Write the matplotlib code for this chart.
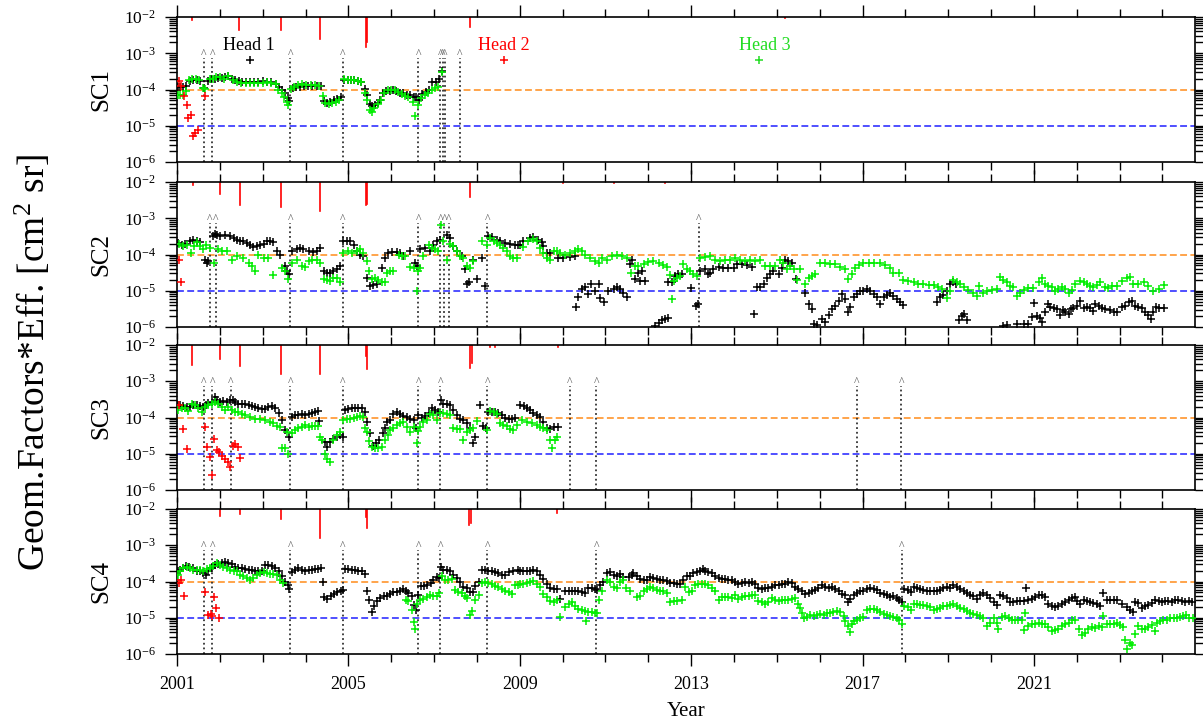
import numpy as np
import matplotlib
matplotlib.use("Agg")
import matplotlib.pyplot as plt
from matplotlib.ticker import LogLocator, NullFormatter, FuncFormatter, FixedLocator

plt.rcParams['font.family'] = ['Liberation Serif', 'DejaVu Serif']
plt.rcParams['mathtext.fontset'] = 'custom'
plt.rcParams['mathtext.rm'] = 'Liberation Serif'
plt.rcParams['mathtext.it'] = 'Liberation Serif:italic'
plt.rcParams['mathtext.bf'] = 'Liberation Serif:bold'

# data: (decimal year, log10 of geom. factor * eff.)
# ---- SC1 ----
sc1_black = [(2001.02,-3.92),(2001.08,-3.92),(2001.15,-3.92),(2001.22,-3.90),(2001.30,-3.76),(2001.38,-3.74),
    (2001.46,-3.74),(2001.54,-3.76),(2001.62,-3.96),(2001.72,-3.76),(2001.80,-3.72),(2001.88,-3.70),(2001.96,-3.68),
    (2002.04,-3.67),(2002.12,-3.66),(2002.20,-3.63),(2002.28,-3.70),(2002.36,-3.74),(2002.44,-3.76),(2002.52,-3.78),
    (2002.60,-3.78),(2002.70,-3.78),(2002.80,-3.78),(2002.90,-3.78),(2003.00,-3.77),(2003.10,-3.78),(2003.20,-3.80),
    (2003.30,-3.85),(2003.38,-3.92),(2003.46,-4.02),(2003.52,-4.10),(2003.58,-4.24),(2003.62,-4.32),(2003.70,-3.96),
    (2003.78,-3.94),(2003.86,-3.92),(2003.96,-3.90),(2004.06,-3.90),(2004.16,-3.90),(2004.26,-3.90),(2004.36,-3.90),
    (2004.42,-4.32),(2004.50,-4.36),(2004.58,-4.34),(2004.66,-4.30),(2004.74,-4.26),(2004.82,-4.22),(2004.90,-3.74),
    (2004.98,-3.74),(2005.06,-3.74),(2005.14,-3.75),(2005.22,-3.76),(2005.30,-3.78),(2005.38,-3.98),(2005.44,-4.15),
    (2005.50,-4.40),(2005.56,-4.46),(2005.62,-4.44),(2005.68,-4.38),(2005.74,-4.28),(2005.80,-4.10),(2005.88,-4.04),
    (2005.96,-4.04),(2006.04,-4.02),(2006.12,-4.05),(2006.20,-4.10),(2006.28,-4.10),(2006.36,-4.14),(2006.44,-4.14),
    (2006.52,-4.20),(2006.58,-4.22),(2006.64,-4.28),(2006.72,-4.12),(2006.80,-4.08),(2006.88,-4.02),(2006.96,-3.80),
    (2007.04,-3.78),(2007.12,-3.72),(2007.18,-3.50)]
sc1_green = [(2001.02,-4.15),(2001.08,-4.14),(2001.14,-4.15),(2001.20,-4.05),(2001.28,-3.74),(2001.36,-3.70),
    (2001.44,-3.72),(2001.52,-3.74),(2001.60,-3.96),(2001.66,-3.98),(2001.76,-3.72),(2001.84,-3.70),(2001.92,-3.66),
    (2002.00,-3.66),(2002.10,-3.70),(2002.20,-3.64),(2002.30,-3.74),(2002.40,-3.80),(2002.50,-3.82),(2002.60,-3.82),
    (2002.70,-3.82),(2002.80,-3.83),(2002.90,-3.82),(2003.00,-3.82),(2003.10,-3.80),(2003.20,-3.82),(2003.30,-3.85),
    (2003.36,-4.00),(2003.44,-4.10),(2003.50,-4.20),(2003.56,-4.35),(2003.60,-4.44),(2003.66,-3.98),(2003.74,-3.92),
    (2003.82,-3.88),(2003.92,-3.86),(2004.02,-3.87),(2004.12,-3.88),(2004.22,-3.88),(2004.32,-3.90),(2004.40,-4.18),
    (2004.46,-4.38),(2004.54,-4.40),(2004.62,-4.38),(2004.70,-4.34),(2004.78,-4.30),(2004.90,-3.72),(2004.98,-3.74),
    (2005.06,-3.74),(2005.14,-3.74),(2005.22,-3.76),(2005.30,-3.80),(2005.38,-4.10),(2005.44,-4.30),(2005.50,-4.56),
    (2005.54,-4.62),(2005.60,-4.50),(2005.68,-4.40),(2005.76,-4.30),(2005.84,-4.10),(2005.92,-4.02),(2006.00,-4.00),
    (2006.08,-4.00),(2006.16,-4.06),(2006.24,-4.12),(2006.32,-4.18),(2006.40,-4.22),(2006.50,-4.35),(2006.56,-4.72),
    (2006.62,-4.42),(2006.70,-4.24),(2006.78,-4.16),(2006.86,-4.10),(2006.94,-4.02),(2007.02,-3.96),(2007.10,-3.92),
    (2007.18,-3.53)]
sc1_red = [(2001.05,-3.76),(2001.10,-3.89),(2001.16,-4.19),(2001.23,-4.42),(2001.26,-4.79),(2001.32,-4.69),
    (2001.37,-5.27),(2001.42,-5.20),(2001.48,-5.13),(2001.66,-4.17)]
sc1_events = [2001.63, 2001.82, 2003.64, 2004.87, 2006.63, 2007.15, 2007.21, 2007.25, 2007.60]
sc1_spikes = [(2001.36,-2.09),(2002.45,-2.37),(2003.43,-2.37),(2004.34,-2.60),(2005.41,-2.82),(2005.43,-2.70),
    (2007.85,-2.28),(2015.2,-2.03)]

# ---- SC2 ----
sc2_black = [(2001.03,-3.68),(2001.11,-3.73),(2001.19,-3.71),(2001.30,-3.62),(2001.38,-3.59),(2001.46,-3.64),
    (2001.54,-3.65),(2001.65,-4.14),(2001.69,-4.23),(2001.73,-4.18),(2001.85,-3.50),(2001.89,-3.44),(2001.94,-3.45),
    (2002.00,-3.50),(2002.12,-3.47),(2002.24,-3.50),(2002.32,-3.55),(2002.39,-3.59),(2002.47,-3.62),(2002.55,-3.64),
    (2002.63,-3.68),(2002.70,-3.73),(2002.78,-3.80),(2002.86,-3.77),(2002.94,-3.73),(2003.02,-3.70),(2003.09,-3.64),
    (2003.17,-3.64),(2003.25,-3.65),(2003.33,-3.91),(2003.40,-4.00),(2003.51,-4.32),(2003.56,-4.45),(2003.61,-4.55),
    (2003.68,-3.89),(2003.79,-3.86),(2003.87,-3.82),(2003.95,-3.84),(2004.07,-3.91),(2004.18,-3.93),(2004.26,-3.89),
    (2004.34,-3.82),(2004.42,-4.45),(2004.49,-4.50),(2004.57,-4.50),(2004.65,-4.45),(2004.73,-4.41),(2004.81,-4.32),
    (2004.88,-3.64),(2004.96,-3.62),(2005.04,-3.64),(2005.12,-3.75),(2005.19,-3.91),(2005.27,-4.00),(2005.35,-4.05),
    (2005.43,-4.64),(2005.51,-4.86),(2005.58,-4.84),(2005.66,-4.82),(2005.78,-4.36),(2005.86,-4.09),(2005.93,-3.95),
    (2006.01,-3.93),(2006.13,-3.93),(2006.21,-3.95),(2006.28,-4.05),(2006.44,-3.91),(2006.56,-4.23),(2006.60,-4.32),
    (2006.67,-3.86),(2006.79,-3.82),(2006.91,-3.91),(2006.98,-3.73),(2007.06,-3.64),(2007.14,-3.59),(2007.30,-3.45),
    (2007.37,-3.55),(2007.45,-3.77),(2007.53,-3.91),(2007.65,-4.05),(2007.72,-4.41),(2007.76,-4.82),(2007.82,-4.77),
    (2007.92,-4.14),(2008.00,-4.68),(2008.11,-4.09),(2008.19,-4.86),(2008.27,-3.50),(2008.35,-3.53),(2008.46,-3.59),
    (2008.54,-3.64),(2008.66,-3.68),(2008.77,-3.71),(2008.89,-3.73),(2008.97,-3.73),
    (2009.01,-3.73),(2009.08,-3.64),(2009.24,-3.55),(2009.32,-3.53),(2009.43,-3.59),(2009.51,-3.65),(2009.55,-3.77),
    (2009.63,-3.95),(2009.71,-3.95),(2009.90,-4.09),(2010.02,-4.09),(2010.17,-4.07),(2010.29,-4.05),(2010.31,-5.45),
    (2010.37,-5.18),(2010.45,-4.95),(2010.52,-4.89),(2010.60,-5.09),(2010.66,-4.82),(2010.76,-5.00),(2010.84,-4.80),
    (2010.87,-5.20),(2010.97,-5.32),(2011.07,-5.00),(2011.19,-4.95),(2011.26,-4.91),(2011.34,-4.95),(2011.42,-5.05),
    (2011.50,-5.16),(2011.57,-4.27),(2011.61,-4.14),(2011.69,-4.68),(2011.77,-4.50),(2011.81,-4.73),(2011.85,-4.45),
    (2011.93,-4.73),(2012.16,-5.98),(2012.24,-5.89),(2012.31,-5.82),(2012.39,-5.77),(2012.47,-5.75),(2012.47,-4.77),
    (2012.55,-4.77),(2012.63,-4.59),(2012.70,-4.55),(2012.78,-4.55),(2012.99,-4.93),(2013.11,-5.41),(2013.15,-5.36),
    (2013.21,-4.45),(2013.33,-4.41),(2013.40,-4.55),(2013.44,-4.50),(2013.52,-4.41),(2013.64,-4.35),(2013.75,-4.38),
    (2013.87,-4.38),(2013.99,-4.36),(2014.07,-4.27),(2014.18,-4.27),(2014.30,-4.29),(2014.42,-4.35),(2014.47,-5.64),
    (2014.53,-4.89),(2014.61,-4.89),(2014.69,-4.82),(2014.77,-4.64),(2014.84,-4.55),(2014.92,-4.45),(2015.04,-4.55),
    (2015.12,-4.36),(2015.19,-4.14),(2015.27,-4.18),(2015.35,-4.23),(2015.45,-4.68),(2015.66,-5.05),(2015.74,-5.36),
    (2015.82,-5.50),(2015.86,-5.91),(2015.93,-5.95),(2016.05,-5.77),(2016.13,-5.85),(2016.21,-5.68),(2016.28,-5.50),
    (2016.36,-5.41),(2016.44,-5.27),(2016.52,-5.09),(2016.59,-5.23),(2016.67,-5.59),(2016.71,-5.44),(2016.79,-5.18),
    (2016.87,-5.09),(2016.94,-5.00),(2017.02,-5.00),(2017.10,-4.95),(2017.18,-5.00),(2017.26,-5.09),(2017.33,-5.18),
    (2017.41,-5.36),(2017.49,-5.16),(2017.57,-5.11),(2017.64,-5.07),(2017.72,-5.14),(2017.80,-5.23),(2017.88,-5.32),
    (2017.94,-5.39),(2018.73,-5.32),(2018.81,-5.18),(2018.89,-5.11),(2018.97,-5.00),(2019.04,-4.80),(2019.12,-4.77),
    (2019.18,-4.80),(2019.26,-5.80),(2019.32,-5.71),(2019.37,-5.64),(2019.45,-5.80),(2020.29,-5.98),(2020.37,-5.95),
    (2020.60,-5.91),(2020.76,-5.91),(2020.87,-5.93),(2020.95,-5.73),(2021.01,-5.35),(2021.07,-5.71),(2021.15,-5.75),
    (2021.20,-5.86),(2021.26,-5.59),(2021.32,-5.36),(2021.38,-5.44),(2021.46,-5.47),(2021.53,-5.50),(2021.61,-5.68),
    (2021.67,-5.53),(2021.73,-5.59),(2021.81,-5.64),(2021.86,-5.50),(2021.92,-5.47),(2022.00,-5.41),(2022.08,-5.29),
    (2022.17,-5.47),(2022.23,-5.44),(2022.31,-5.47),(2022.37,-5.56),(2022.43,-5.36),(2022.51,-5.41),(2022.59,-5.47),
    (2022.66,-5.50),(2022.78,-5.52),(2022.86,-5.59),(2022.94,-5.59),(2023.05,-5.44),(2023.13,-5.41),(2023.21,-5.32),
    (2023.29,-5.27),(2023.36,-5.41),(2023.44,-5.45),(2023.52,-5.47),(2023.60,-5.59),(2023.67,-5.68),(2023.73,-5.77),
    (2023.79,-5.59),(2023.85,-5.45),(2023.93,-5.47),(2024.04,-5.48)]
sc2_green = [(2001.05,-3.70),(2001.13,-3.77),(2001.24,-3.73),(2001.32,-3.95),(2001.40,-3.77),(2001.46,-3.66),
    (2001.54,-3.77),(2001.61,-3.86),(2001.68,-3.75),(2001.77,-3.82),(2001.87,-4.23),(2001.95,-3.86),(2002.04,-3.91),
    (2002.16,-3.89),(2002.28,-4.14),(2002.39,-4.05),(2002.55,-4.09),(2002.67,-4.23),(2002.74,-4.32),(2002.82,-4.45),
    (2002.90,-4.00),(2003.02,-4.09),(2003.13,-4.09),(2003.23,-4.56),(2003.44,-4.36),(2003.52,-4.45),(2003.60,-4.68),
    (2003.68,-4.23),(2003.79,-4.14),(2003.91,-4.32),(2003.99,-4.35),(2004.07,-4.18),(2004.14,-4.14),(2004.26,-4.14),
    (2004.34,-4.23),(2004.42,-4.68),(2004.49,-4.71),(2004.57,-4.73),(2004.65,-4.64),(2004.73,-4.64),(2004.81,-4.77),
    (2004.88,-3.95),(2005.00,-3.91),(2005.08,-3.95),(2005.19,-3.91),(2005.27,-3.86),(2005.35,-3.95),(2005.43,-4.18),
    (2005.47,-4.45),(2005.54,-4.68),(2005.62,-4.65),(2005.70,-4.71),(2005.78,-4.75),(2005.86,-4.77),(2005.89,-4.50),
    (2005.97,-4.45),(2006.05,-4.45),(2006.17,-4.00),(2006.25,-4.05),(2006.32,-4.05),(2006.44,-4.35),(2006.52,-4.36),
    (2006.60,-5.00),(2006.63,-4.45),(2006.67,-4.36),(2006.75,-4.05),(2006.87,-3.73),(2006.95,-3.82),(2007.02,-3.86),
    (2007.10,-3.91),(2007.16,-3.18),(2007.22,-3.64),(2007.30,-4.14),(2007.37,-3.71),(2007.45,-3.77),(2007.53,-3.91),
    (2007.61,-4.05),(2007.68,-4.09),(2007.76,-4.32),(2007.84,-4.36),(2007.92,-4.18),(2008.11,-3.64),(2008.23,-3.73),
    (2008.31,-3.55),(2008.39,-3.62),(2008.46,-3.68),(2008.54,-3.75),(2008.62,-3.82),(2008.70,-3.91),(2008.77,-4.05),
    (2008.85,-4.09),(2008.93,-4.09),
    (2009.08,-3.80),(2009.20,-3.64),(2009.32,-3.56),(2009.40,-3.62),(2009.47,-3.82),(2009.55,-3.95),(2009.63,-4.09),
    (2009.71,-4.14),(2009.79,-3.91),(2009.86,-3.89),(2009.94,-3.95),(2010.06,-4.00),(2010.17,-3.95),(2010.29,-3.89),
    (2010.37,-3.86),(2010.45,-3.91),(2010.52,-4.00),(2010.64,-4.09),(2010.76,-4.18),(2010.84,-4.23),(2010.91,-4.09),
    (2011.03,-4.14),(2011.15,-4.05),(2011.26,-4.02),(2011.38,-4.05),(2011.50,-4.09),(2011.59,-4.50),(2011.69,-4.32),
    (2011.77,-4.32),(2011.89,-4.25),(2012.00,-4.20),(2012.12,-4.18),(2012.24,-4.23),(2012.35,-4.29),(2012.43,-4.35),
    (2012.51,-4.56),(2012.55,-5.23),(2012.59,-4.73),(2012.66,-4.64),(2012.74,-4.59),(2012.82,-4.25),(2012.90,-4.41),
    (2012.98,-4.45),(2013.05,-4.53),(2013.13,-4.59),(2013.21,-4.09),(2013.33,-4.07),(2013.44,-4.05),(2013.56,-4.14),
    (2013.68,-4.18),(2013.79,-4.14),(2013.91,-4.14),(2014.03,-4.09),(2014.14,-4.14),(2014.26,-4.18),(2014.38,-4.14),
    (2014.49,-4.18),(2014.61,-4.14),(2014.73,-4.32),(2014.84,-4.32),(2014.96,-4.32),(2015.08,-4.14),(2015.15,-4.23),
    (2015.23,-4.41),(2015.31,-4.32),(2015.39,-4.41),(2015.47,-4.71),(2015.54,-4.41),(2015.66,-4.82),(2015.74,-4.64),
    (2015.82,-4.59),(2015.89,-4.55),(2016.01,-4.23),(2016.13,-4.23),(2016.24,-4.25),(2016.36,-4.27),(2016.48,-4.35),
    (2016.59,-4.41),(2016.67,-4.68),(2016.75,-4.53),(2016.83,-4.36),(2016.91,-4.29),(2017.02,-4.23),(2017.14,-4.23),
    (2017.26,-4.23),(2017.41,-4.23),(2017.53,-4.29),(2017.64,-4.36),(2017.72,-4.50),(2017.84,-4.50),(2017.95,-4.71),
    (2018.07,-4.73),(2018.19,-4.77),(2018.30,-4.80),(2018.42,-4.82),(2018.54,-4.84),(2018.66,-4.84),(2018.77,-4.91),
    (2018.85,-4.95),(2018.97,-5.20),(2019.04,-5.00),(2019.12,-4.71),(2019.20,-4.77),(2019.28,-4.82),(2019.36,-4.91),
    (2019.47,-4.98),(2019.59,-5.05),(2019.67,-5.14),(2019.73,-4.86),(2019.82,-5.05),(2019.90,-5.00),(2020.02,-4.98),
    (2020.13,-4.95),(2020.21,-4.62),(2020.29,-4.71),(2020.37,-4.77),(2020.45,-4.86),(2020.52,-4.91),(2020.60,-5.14),
    (2020.68,-5.05),(2020.76,-4.98),(2020.87,-4.93),(2020.99,-4.93),(2021.11,-4.77),(2021.18,-4.65),(2021.26,-4.82),
    (2021.34,-4.86),(2021.42,-4.89),(2021.50,-5.00),(2021.57,-4.95),(2021.65,-4.91),(2021.73,-4.95),(2021.81,-5.05),
    (2021.88,-4.98),(2021.96,-4.82),(2022.08,-4.73),(2022.16,-4.77),(2022.23,-4.82),(2022.31,-4.86),(2022.39,-4.91),
    (2022.47,-4.84),(2022.55,-4.77),(2022.66,-4.91),(2022.74,-4.93),(2022.82,-4.86),(2022.94,-4.86),(2023.05,-4.73),
    (2023.17,-4.65),(2023.25,-4.62),(2023.32,-4.82),(2023.44,-4.80),(2023.56,-4.77),(2023.67,-4.86),(2023.79,-5.00),
    (2023.91,-4.95),(2024.04,-4.84)]
sc2_red = [(2001.05,-4.14),(2001.09,-4.77)]
sc2_events = [2001.77, 2001.91, 2003.64, 2004.87, 2006.63, 2007.15, 2007.24, 2007.35, 2008.24, 2013.18]
sc2_spikes = [(2001.37,-2.08),(2002.00,-2.32),(2002.46,-2.64),(2003.43,-2.69),(2004.34,-2.80),(2005.40,-2.64),
    (2005.43,-2.60),(2007.84,-2.41),(2010.0,-2.04),(2011.2,-2.03),(2012.4,-2.03)]

# ---- SC3 ----
sc3_black = [(2001.02,-3.66),(2001.07,-3.66),(2001.15,-3.69),(2001.23,-3.71),(2001.30,-3.71),(2001.38,-3.66),
    (2001.46,-3.66),(2001.54,-3.69),(2001.61,-3.71),(2001.68,-3.66),(2001.73,-3.60),(2001.81,-3.57),(2001.89,-3.44),
    (2001.94,-3.53),(2002.00,-3.57),(2002.08,-3.55),(2002.16,-3.57),(2002.24,-3.53),(2002.30,-3.51),(2002.35,-3.57),
    (2002.43,-3.62),(2002.51,-3.64),(2002.59,-3.64),(2002.67,-3.66),(2002.74,-3.69),(2002.82,-3.71),(2002.90,-3.75),
    (2002.98,-3.77),(2003.05,-3.77),(2003.13,-3.71),(2003.21,-3.69),(2003.29,-3.75),(2003.37,-3.87),(2003.44,-4.07),
    (2003.52,-4.35),(2003.62,-4.53),(2003.68,-3.98),(2003.75,-3.94),(2003.83,-3.94),(2003.91,-3.91),(2003.99,-3.94),
    (2004.07,-3.89),(2004.14,-3.87),(2004.22,-3.85),(2004.30,-3.82),(2004.32,-4.09),(2004.46,-4.67),(2004.49,-4.80),
    (2004.57,-4.67),(2004.65,-4.58),(2004.73,-4.53),(2004.81,-4.48),(2004.87,-4.53),(2004.92,-3.78),(2005.00,-3.77),
    (2005.08,-3.75),(2005.16,-3.75),(2005.23,-3.75),(2005.31,-3.75),(2005.39,-3.84),(2005.44,-4.12),(2005.51,-4.44),
    (2005.58,-4.79),(2005.65,-4.71),(2005.72,-4.62),(2005.80,-4.42),(2005.86,-4.30),(2005.91,-4.12),(2005.97,-4.07),
    (2006.05,-3.89),(2006.13,-3.84),(2006.21,-3.89),(2006.28,-3.96),(2006.36,-3.98),(2006.44,-4.03),(2006.52,-4.07),
    (2006.58,-4.30),(2006.63,-3.94),(2006.71,-4.00),(2006.79,-3.96),(2006.87,-3.87),(2006.95,-3.75),(2007.02,-3.80),
    (2007.10,-3.84),(2007.16,-3.53),(2007.22,-3.62),(2007.30,-3.64),(2007.37,-3.66),(2007.45,-3.80),(2007.53,-3.94),
    (2007.61,-4.03),(2007.68,-4.07),(2007.76,-4.16),(2007.84,-4.30),(2007.90,-4.71),(2007.96,-4.53),(2008.07,-3.66),
    (2008.14,-4.24),(2008.21,-4.30),(2008.27,-3.84),(2008.35,-3.84),(2008.42,-3.84),(2008.50,-3.87),(2008.58,-3.94),
    (2008.66,-4.00),(2008.74,-4.03),(2008.81,-4.03),(2008.89,-4.00),(2009.01,-3.66),(2009.09,-3.69),(2009.16,-3.75),
    (2009.24,-3.80),(2009.32,-3.87),(2009.40,-3.94),(2009.47,-3.98),(2009.55,-4.12),(2009.63,-4.30),(2009.71,-4.33),
    (2009.79,-4.27),(2009.90,-4.27)]
sc3_green = [(2001.03,-3.80),(2001.11,-3.75),(2001.19,-3.75),(2001.26,-3.82),(2001.34,-3.62),(2001.42,-3.66),
    (2001.50,-3.75),(2001.58,-3.84),(2001.65,-3.71),(2001.73,-3.66),(2001.81,-3.64),(2001.89,-3.57),(2001.96,-3.62),
    (2002.04,-3.71),(2002.12,-3.80),(2002.20,-3.71),(2002.28,-3.80),(2002.35,-3.84),(2002.43,-3.84),(2002.51,-3.89),
    (2002.59,-3.94),(2002.70,-3.98),(2002.82,-4.03),(2002.94,-4.03),(2003.05,-4.07),(2003.17,-4.12),(2003.25,-4.16),
    (2003.33,-4.24),(2003.40,-4.26),(2003.44,-4.85),(2003.52,-4.85),(2003.56,-4.39),(2003.60,-5.00),(2003.68,-4.44),
    (2003.75,-4.35),(2003.83,-4.30),(2003.91,-4.26),(2003.99,-4.21),(2004.07,-4.26),(2004.14,-4.24),(2004.22,-4.24),
    (2004.30,-4.24),(2004.34,-4.53),(2004.38,-4.62),(2004.46,-5.00),(2004.49,-5.15),(2004.57,-5.24),(2004.65,-4.62),
    (2004.73,-4.48),(2004.81,-4.39),(2004.88,-4.07),(2004.96,-4.05),(2005.04,-4.03),(2005.12,-4.00),(2005.19,-3.98),
    (2005.27,-3.96),(2005.35,-3.98),(2005.39,-4.30),(2005.43,-4.39),(2005.49,-4.64),(2005.54,-4.80),(2005.62,-4.85),
    (2005.70,-4.85),(2005.78,-4.80),(2005.86,-4.62),(2005.93,-4.48),(2005.97,-4.35),(2006.05,-4.30),(2006.13,-4.21),
    (2006.21,-4.16),(2006.28,-4.12),(2006.36,-4.26),(2006.44,-4.39),(2006.52,-4.26),(2006.60,-4.69),(2006.63,-4.37),
    (2006.67,-4.26),(2006.75,-4.12),(2006.83,-4.07),(2006.91,-3.91),(2006.98,-3.94),(2007.06,-4.07),(2007.14,-3.87),
    (2007.22,-3.87),(2007.30,-3.91),(2007.37,-3.94),(2007.45,-4.30),(2007.53,-4.33),(2007.61,-4.33),(2007.68,-4.62),
    (2007.76,-4.39),(2007.84,-4.35),(2007.92,-4.30),(2008.00,-4.09),(2008.23,-4.35),(2008.31,-3.82),(2008.39,-3.84),
    (2008.46,-3.89),(2008.54,-4.16),(2008.62,-4.21),(2008.70,-4.24),(2008.77,-4.33),(2008.85,-4.35),(2008.93,-4.21),
    (2009.05,-4.07),(2009.16,-4.12),(2009.28,-4.16),(2009.40,-4.21),(2009.47,-4.27),(2009.55,-4.30),(2009.63,-4.35),
    (2009.71,-4.62),(2009.75,-4.85),(2009.82,-4.62),(2009.88,-4.55)]
sc3_red = [(2001.05,-3.66),(2001.15,-4.33),(2001.23,-4.88),(2001.65,-4.27),(2001.71,-4.80),(2001.77,-5.10),
    (2001.82,-5.58),(2001.87,-4.58),(2001.93,-4.89),(2001.97,-4.94),(2002.04,-5.06),(2002.12,-5.15),(2002.18,-5.24),
    (2002.24,-5.37),(2002.30,-4.79),(2002.36,-4.73),(2002.42,-4.80),(2002.47,-5.11)]
sc3_events = [2001.63, 2001.82, 2002.25, 2003.64, 2004.87, 2006.63, 2007.15, 2008.24, 2010.17, 2010.79,
    2016.87, 2017.90]
sc3_spikes = [(2001.36,-2.55),(2002.00,-2.39),(2002.46,-2.58),(2003.43,-2.80),(2004.34,-2.80),(2005.40,-2.30),
    (2005.44,-2.66),(2007.84,-2.63),(2007.88,-2.50),(2008.31,-2.06),(2008.42,-2.06),(2009.90,-2.05)]

# ---- SC4 ----
sc4_black = [(2001.02,-3.70),(2001.07,-3.68),(2001.13,-3.63),(2001.21,-3.57),(2001.29,-3.59),(2001.38,-3.63),
    (2001.46,-3.70),(2001.54,-3.72),(2001.61,-3.77),(2001.68,-3.82),(2001.73,-3.70),(2001.81,-3.63),(2001.89,-3.54),
    (2001.96,-3.51),(2002.04,-3.48),(2002.12,-3.45),(2002.20,-3.48),(2002.28,-3.51),(2002.35,-3.59),(2002.43,-3.63),
    (2002.51,-3.63),(2002.59,-3.66),(2002.67,-3.68),(2002.74,-3.68),(2002.82,-3.70),(2002.90,-3.70),(2002.98,-3.70),
    (2003.05,-3.54),(2003.13,-3.54),(2003.21,-3.57),(2003.29,-3.63),(2003.37,-3.72),(2003.44,-3.86),(2003.52,-4.00),
    (2003.58,-4.09),(2003.62,-4.21),(2003.68,-3.75),(2003.75,-3.68),(2003.83,-3.63),(2003.91,-3.68),(2003.99,-3.70),
    (2004.07,-3.68),(2004.14,-3.68),(2004.22,-3.66),(2004.30,-3.65),(2004.35,-3.63),(2004.40,-4.00),(2004.43,-4.43),
    (2004.51,-4.49),(2004.59,-4.41),(2004.67,-4.34),(2004.74,-4.30),(2004.82,-4.25),(2004.87,-4.23),(2004.92,-3.65),
    (2005.00,-3.65),(2005.08,-3.68),(2005.16,-3.68),(2005.23,-3.70),(2005.31,-3.70),(2005.39,-3.79),(2005.43,-4.25),
    (2005.49,-4.50),(2005.54,-4.83),(2005.60,-4.67),(2005.66,-4.55),(2005.74,-4.46),(2005.82,-4.41),(2005.89,-4.39),
    (2005.97,-4.34),(2006.05,-4.30),(2006.13,-4.28),(2006.21,-4.25),(2006.28,-4.21),(2006.35,-4.25),(2006.40,-4.32),
    (2006.48,-4.41),(2006.53,-4.64),(2006.58,-4.78),(2006.63,-4.37),(2006.69,-4.12),(2006.77,-4.12),(2006.84,-4.09),
    (2006.92,-4.03),(2006.98,-3.95),(2007.06,-3.88),(2007.12,-3.91),(2007.16,-3.59),(2007.22,-3.68),(2007.30,-3.68),
    (2007.37,-3.72),(2007.45,-3.82),(2007.53,-3.91),(2007.61,-4.00),(2007.68,-4.14),(2007.76,-4.18),(2007.84,-4.28),
    (2007.90,-4.28),(2007.96,-4.12),(2008.04,-4.00),(2008.11,-3.68),(2008.19,-3.68),(2008.27,-3.70),(2008.35,-3.72),
    (2008.42,-3.75),(2008.50,-3.77),(2008.58,-3.82),(2008.66,-3.82),(2008.74,-3.75),(2008.85,-3.72),(2008.97,-3.68),
    (2009.01,-3.72),(2009.08,-3.72),(2009.16,-3.72),(2009.24,-3.70),(2009.32,-3.68),(2009.40,-3.72),(2009.47,-3.81),
    (2009.55,-3.93),(2009.63,-4.06),(2009.71,-4.17),(2009.79,-4.20),(2009.86,-4.20),(2009.94,-4.47),(2010.06,-4.26),
    (2010.14,-4.25),(2010.21,-4.25),(2010.29,-4.26),(2010.37,-4.26),(2010.45,-4.29),(2010.52,-4.32),(2010.60,-4.17),
    (2010.68,-4.17),(2010.76,-4.20),(2010.81,-4.23),(2010.87,-4.11),(2010.95,-4.02),(2011.03,-3.77),(2011.11,-3.75),
    (2011.19,-3.81),(2011.26,-3.84),(2011.34,-3.79),(2011.42,-3.88),(2011.54,-3.88),(2011.61,-3.81),(2011.65,-3.77),
    (2011.73,-3.86),(2011.81,-3.93),(2011.89,-3.95),(2011.96,-3.97),(2012.04,-3.88),(2012.12,-3.90),(2012.20,-3.93),
    (2012.28,-3.95),(2012.35,-3.97),(2012.43,-3.99),(2012.51,-4.05),(2012.59,-4.05),(2012.66,-4.06),(2012.74,-4.08),
    (2012.82,-3.97),(2012.90,-3.84),(2012.98,-3.84),(2013.05,-3.77),(2013.13,-3.75),(2013.21,-3.72),(2013.27,-3.65),
    (2013.33,-3.70),(2013.40,-3.75),(2013.48,-3.77),(2013.56,-3.86),(2013.64,-3.90),(2013.72,-3.93),(2013.79,-3.93),
    (2013.87,-3.95),(2013.95,-3.97),(2014.03,-4.02),(2014.10,-4.08),(2014.18,-4.05),(2014.26,-4.02),(2014.34,-4.05),
    (2014.42,-4.02),(2014.49,-4.06),(2014.57,-4.17),(2014.65,-4.20),(2014.73,-4.17),(2014.80,-4.17),(2014.88,-4.14),
    (2014.96,-4.11),(2015.04,-4.11),(2015.12,-4.06),(2015.19,-4.08),(2015.27,-4.02),(2015.35,-4.05),(2015.43,-4.14),
    (2015.50,-4.20),(2015.58,-4.25),(2015.66,-4.35),(2015.74,-4.32),(2015.82,-4.26),(2015.89,-4.23),(2015.97,-4.17),
    (2016.05,-4.11),(2016.13,-4.14),(2016.21,-4.17),(2016.28,-4.14),(2016.36,-4.20),(2016.44,-4.26),(2016.52,-4.34),
    (2016.59,-4.38),(2016.67,-4.56),(2016.71,-4.47),(2016.79,-4.38),(2016.87,-4.32),(2016.94,-4.26),(2017.02,-4.25),
    (2017.10,-4.20),(2017.18,-4.17),(2017.26,-4.20),(2017.33,-4.23),
    (2017.41,-4.32),(2017.49,-4.34),(2017.57,-4.38),(2017.64,-4.43),(2017.72,-4.41),(2017.80,-4.45),(2017.86,-4.52),
    (2017.92,-4.57),(2017.97,-4.20),(2018.05,-4.23),(2018.13,-4.29),(2018.19,-4.14),(2018.27,-4.17),(2018.34,-4.20),
    (2018.42,-4.23),(2018.50,-4.25),(2018.58,-4.25),(2018.66,-4.26),(2018.73,-4.26),(2018.81,-4.23),(2018.89,-4.17),
    (2018.97,-4.14),(2019.04,-4.17),(2019.12,-4.11),(2019.20,-4.14),(2019.28,-4.20),(2019.36,-4.26),(2019.43,-4.32),
    (2019.51,-4.36),(2019.59,-4.41),(2019.67,-4.47),(2019.74,-4.38),(2019.82,-4.32),(2019.90,-4.38),(2019.98,-4.45),
    (2020.06,-4.57),(2020.13,-4.66),(2020.21,-4.38),(2020.29,-4.41),(2020.37,-4.45),(2020.45,-4.57),(2020.52,-4.57),
    (2020.60,-4.54),(2020.68,-4.54),(2020.76,-4.54),(2020.82,-4.17),(2020.87,-4.52),(2020.95,-4.47),(2021.03,-4.43),
    (2021.11,-4.38),(2021.18,-4.38),(2021.26,-4.43),(2021.34,-4.61),(2021.42,-4.68),(2021.50,-4.70),(2021.57,-4.68),
    (2021.65,-4.63),(2021.73,-4.57),(2021.81,-4.50),(2021.88,-4.45),(2021.96,-4.43),(2022.00,-4.54),(2022.08,-4.63),
    (2022.16,-4.52),(2022.23,-4.54),(2022.31,-4.57),(2022.39,-4.59),(2022.47,-4.63),(2022.55,-4.68),(2022.62,-4.32),
    (2022.70,-4.50),(2022.78,-4.50),(2022.86,-4.50),(2022.94,-4.50),(2023.05,-4.61),(2023.17,-4.70),(2023.25,-4.78),
    (2023.31,-4.84),(2023.36,-4.57),(2023.44,-4.59),(2023.52,-4.72),(2023.60,-4.68),(2023.67,-4.66),(2023.75,-4.59),
    (2023.83,-4.52),(2023.91,-4.54),(2023.99,-4.57),(2024.06,-4.54),(2024.14,-4.54),(2024.22,-4.57),(2024.30,-4.50),
    (2024.37,-4.52),(2024.45,-4.54),(2024.53,-4.57),(2024.61,-4.54),(2024.69,-4.57)]
sc4_green = [(2001.02,-3.82),(2001.07,-3.72),(2001.15,-3.63),(2001.23,-3.59),(2001.30,-3.63),(2001.38,-3.68),
    (2001.46,-3.68),(2001.54,-3.68),(2001.61,-3.70),(2001.69,-3.66),(2001.77,-3.63),(2001.85,-3.57),(2001.93,-3.50),
    (2002.00,-3.54),(2002.08,-3.59),(2002.16,-3.63),(2002.24,-3.68),(2002.32,-3.70),(2002.39,-3.72),(2002.47,-3.82),
    (2002.55,-3.86),(2002.63,-3.91),(2002.70,-3.95),(2002.78,-3.91),(2002.86,-3.82),(2002.94,-3.77),(2003.02,-3.75),
    (2003.09,-3.77),(2003.17,-3.79),(2003.25,-3.79),(2003.33,-3.82),(2003.40,-3.95),(2003.47,-4.03),
    (2006.35,-4.50),(2006.40,-4.55),(2006.48,-4.78),(2006.52,-5.13),(2006.56,-5.31),(2006.60,-4.61),(2006.67,-4.50),
    (2006.75,-4.49),(2006.83,-4.43),(2006.91,-4.37),(2006.98,-4.41),(2007.06,-4.41),(2007.12,-4.32),(2007.18,-3.86),
    (2007.26,-3.95),(2007.33,-3.97),(2007.41,-3.94),(2007.49,-4.23),(2007.57,-4.28),(2007.65,-4.32),(2007.72,-4.39),
    (2007.78,-4.46),(2007.84,-4.92),(2007.88,-4.80),(2007.96,-4.50),(2008.04,-4.37),(2008.11,-4.05),(2008.19,-4.00),
    (2008.27,-4.03),(2008.35,-4.06),(2008.42,-4.12),(2008.50,-4.16),(2008.58,-4.21),(2008.66,-4.25),(2008.74,-4.30),
    (2008.81,-4.34),(2008.89,-4.09),(2008.97,-4.09),
    (2009.01,-4.06),(2009.08,-4.06),(2009.16,-4.05),(2009.24,-4.02),(2009.32,-3.99),(2009.40,-4.06),(2009.47,-4.15),
    (2009.55,-4.34),(2009.63,-4.43),(2009.71,-4.54),(2009.79,-4.56),(2009.86,-4.52),(2009.94,-4.99),(2010.06,-4.70),
    (2010.14,-4.63),(2010.21,-4.56),(2010.29,-4.68),(2010.37,-4.75),(2010.45,-4.79),(2010.52,-4.81),(2010.55,-5.08),
    (2010.60,-4.84),(2010.68,-4.84),(2010.76,-4.86),(2010.81,-4.88),(2010.84,-4.50),(2010.91,-4.25),(2011.03,-3.97),
    (2011.11,-4.02),(2011.19,-4.14),(2011.26,-4.17),(2011.34,-4.02),(2011.42,-3.95),(2011.48,-4.17),(2011.57,-4.25),
    (2011.73,-4.43),(2011.81,-4.41),(2011.90,-4.25),(2011.96,-4.20),(2012.04,-4.14),(2012.12,-4.17),(2012.20,-4.23),
    (2012.28,-4.25),(2012.35,-4.26),(2012.43,-4.32),(2012.51,-4.56),(2012.59,-4.54),(2012.66,-4.54),(2012.78,-4.52),
    (2012.86,-4.15),(2012.94,-4.29),(2013.01,-4.26),(2013.09,-4.11),(2013.17,-4.06),(2013.25,-4.06),(2013.33,-4.08),
    (2013.40,-4.11),(2013.48,-4.17),(2013.56,-4.26),(2013.64,-4.50),(2013.72,-4.43),(2013.79,-4.43),(2013.87,-4.43),
    (2013.95,-4.45),(2014.03,-4.38),(2014.10,-4.47),(2014.18,-4.43),(2014.26,-4.41),(2014.34,-4.41),(2014.42,-4.38),
    (2014.49,-4.38),(2014.57,-4.54),(2014.65,-4.56),(2014.73,-4.63),(2014.80,-4.56),(2014.88,-4.45),(2014.96,-4.50),
    (2015.04,-4.54),(2015.12,-4.52),(2015.19,-4.52),(2015.27,-4.50),(2015.35,-4.47),(2015.43,-4.45),(2015.50,-4.61),
    (2015.54,-4.72),(2015.58,-4.88),(2015.64,-5.02),(2015.70,-4.97),(2015.78,-4.93),(2015.86,-4.95),(2015.93,-4.93),
    (2016.01,-4.90),(2016.09,-4.93),(2016.17,-4.88),(2016.24,-4.86),(2016.32,-4.84),(2016.40,-4.81),(2016.48,-4.84),
    (2016.56,-4.95),(2016.59,-5.08),(2016.67,-5.23),(2016.71,-5.38),(2016.75,-5.17),(2016.81,-5.08),(2016.88,-5.05),
    (2016.94,-5.02),(2017.02,-4.99),(2017.10,-4.79),(2017.18,-4.75),(2017.26,-4.75),(2017.33,-4.79),
    (2017.41,-4.84),(2017.49,-4.89),(2017.57,-4.93),(2017.64,-4.96),(2017.72,-4.98),(2017.80,-5.02),(2017.86,-5.07),
    (2017.92,-5.18),(2017.97,-4.68),(2018.05,-4.70),(2018.13,-4.78),(2018.19,-4.63),(2018.27,-4.63),(2018.34,-4.66),
    (2018.42,-4.66),(2018.50,-4.68),(2018.58,-4.70),(2018.66,-4.78),(2018.73,-4.75),(2018.81,-4.72),(2018.89,-4.68),
    (2018.97,-4.68),(2019.04,-4.66),(2019.12,-4.63),(2019.20,-4.68),(2019.28,-4.72),(2019.36,-4.75),(2019.43,-4.81),
    (2019.51,-4.87),(2019.59,-4.90),(2019.67,-4.93),(2019.74,-4.96),(2019.82,-5.02),(2019.90,-5.23),(2019.98,-5.14),
    (2020.06,-5.00),(2020.13,-5.14),(2020.17,-5.30),(2020.25,-4.98),(2020.33,-4.96),(2020.41,-5.00),(2020.48,-5.05),
    (2020.56,-5.07),(2020.64,-5.05),(2020.72,-5.07),(2020.77,-5.34),(2020.80,-4.87),(2020.87,-5.23),(2020.95,-5.18),
    (2021.03,-5.16),(2021.11,-5.14),(2021.18,-5.16),(2021.26,-5.18),(2021.34,-5.25),(2021.42,-5.36),(2021.50,-5.34),
    (2021.57,-5.30),(2021.65,-5.23),(2021.73,-5.18),(2021.81,-5.14),(2021.88,-5.05),(2021.96,-5.07),(2022.06,-5.30),
    (2022.12,-5.48),(2022.20,-5.43),(2022.27,-5.32),(2022.35,-5.25),(2022.43,-5.27),(2022.51,-5.23),(2022.59,-5.25),
    (2022.62,-4.96),(2022.70,-5.18),(2022.78,-5.18),(2022.86,-5.18),(2022.94,-5.14),(2023.01,-5.21),(2023.09,-5.25),
    (2023.13,-5.60),(2023.18,-5.87),(2023.25,-5.71),(2023.29,-5.75),(2023.36,-5.45),(2023.44,-5.23),(2023.52,-5.30),
    (2023.60,-5.30),(2023.67,-5.25),(2023.75,-5.21),(2023.83,-5.36),(2023.87,-5.14),(2023.95,-5.09),(2024.02,-5.07),
    (2024.10,-5.05),(2024.18,-5.02),(2024.26,-5.00),(2024.34,-5.00),(2024.41,-4.98),(2024.49,-4.96),(2024.55,-4.93),
    (2024.63,-5.00),(2024.71,-5.02)]
sc4_red = [(2001.05,-4.05),(2001.09,-3.95),(2001.16,-4.39),(2001.65,-4.30),(2001.73,-4.92),(2001.79,-4.89),
    (2001.82,-4.96),(2001.87,-4.43),(2001.92,-4.72),(2001.98,-5.01)]
sc4_events = [2001.63, 2001.82, 2003.64, 2004.87, 2006.63, 2007.15, 2008.24, 2010.79, 2017.91]
sc4_spikes = [(2002.00,-2.19),(2002.46,-2.14),(2003.43,-2.28),(2004.34,-2.80),(2005.40,-2.22),(2005.44,-2.52),
    (2007.82,-2.44),(2007.86,-2.38),(2009.88,-2.10)]

# head legend entries (panel SC1): label, colour, year of marker, year of text
heads = [("Head 1", "black", 2002.70, 2002.67),
         ("Head 2", "#ff0000", 2008.63, 2008.63),
         ("Head 3", "#22dd22", 2014.58, 2014.72)]

year_labels = [2001, 2005, 2009, 2013, 2017, 2021]

GREEN = "#00ee00"


def unpack(pts):
    a = np.array(pts)
    return a[:, 0], 10 ** a[:, 1]


panels = [("SC1", sc1_black, sc1_green, sc1_red, sc1_events, sc1_spikes),
          ("SC2", sc2_black, sc2_green, sc2_red, sc2_events, sc2_spikes),
          ("SC3", sc3_black, sc3_green, sc3_red, sc3_events, sc3_spikes),
          ("SC4", sc4_black, sc4_green, sc4_red, sc4_events, sc4_spikes)]

fig = plt.figure(figsize=(12.03, 7.24), dpi=100)
W, H = 1203.0, 724.0
tops = [17, 182, 345, 509]
ph = 145
mk = dict(ls='none', marker='+', ms=5.8, mew=1.1)

axes = []
for i, (name, blk, grn, red, events, spikes) in enumerate(panels):
    ax = fig.add_axes([177 / W, 1 - (tops[i] + ph) / H, 1018 / W, ph / H])
    ax.set_yscale('log')
    ax.set_xlim(2001, 2024.76)
    ax.set_ylim(1e-6, 1e-2)

    # reference levels
    ax.axhline(1e-4, color='#ff8c1a', lw=1.1, dashes=(4.5, 2.2), zorder=2)
    ax.axhline(1e-5, color='#1f1fff', lw=1.1, dashes=(4.5, 2.2), zorder=2)

    # event markers
    for x in events:
        ax.plot([x, x], [1e-6, 10 ** -3.14], color='#333333', lw=1.3, ls=(0, (1, 1.6)), zorder=2)
        ax.text(x, 10 ** -3.03, '^', color='#555555', fontsize=8.5, ha='center', va='center', zorder=2)

    # red spikes from the top
    for x, v in spikes:
        ax.plot([x, x], [1e-2, 10 ** v], color='#ff0000', lw=1.2, zorder=2)

    bx, by = unpack(blk)
    gx, gy = unpack(grn)
    rx, ry = unpack(red)
    ax.plot(bx, by, color='black', zorder=3, **mk)
    ax.plot(gx, gy, color=GREEN, zorder=4, **mk)
    ax.plot(rx, ry, color='#ff0000', zorder=5, **mk)

    # axes styling
    ax.yaxis.set_major_locator(LogLocator(base=10, numticks=10))
    ax.yaxis.set_minor_locator(LogLocator(base=10, subs=np.arange(2, 10), numticks=20))
    ax.yaxis.set_minor_formatter(NullFormatter())
    ax.yaxis.set_major_formatter(FuncFormatter(
        lambda v, p: r'$\mathregular{10^{%d}}$' % int(round(np.log10(v)))))
    ax.xaxis.set_major_locator(FixedLocator(year_labels))
    ax.xaxis.set_minor_locator(FixedLocator(range(2001, 2025)))
    ax.tick_params(which='both', direction='out', top=True, right=True, width=1.0)
    ax.tick_params(axis='y', which='major', length=9, labelsize=12.5, pad=6)
    ax.tick_params(axis='y', which='minor', length=6)
    ax.tick_params(axis='x', which='major', length=8.6, labelsize=13, pad=7)
    ax.tick_params(axis='x', which='minor', length=5.8)
    if i < 3:
        ax.tick_params(axis='x', labelbottom=False)
    for s in ax.spines.values():
        s.set_linewidth(1.2)

    fig.text(101 / W, 1 - (tops[i] + ph / 2) / H, name, rotation=90, fontsize=18,
             ha='center', va='center')
    axes.append(ax)

# head legend in the top panel
for label, col, xm, xt in heads:
    axes[0].text(xt, 10 ** -2.79, label, color=col, fontsize=13, ha='center', va='center')
    axes[0].plot([xm], [10 ** -3.18], color=col, **mk)

fig.text(33 / W, 0.5, r'Geom.Factors*Eff. [cm$^2$ sr]', rotation=90, fontsize=27,
         ha='center', va='center')
fig.text(686 / W, 1 - 711 / H, 'Year', fontsize=15, ha='center', va='center')

fig.savefig('out.png', dpi=100)
